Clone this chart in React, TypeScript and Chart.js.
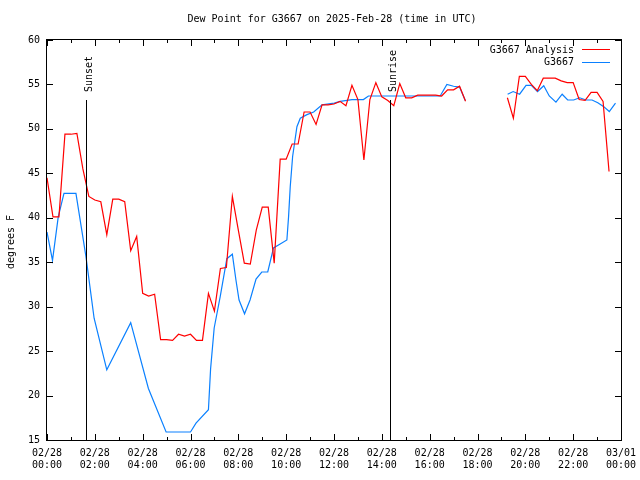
import { useEffect, useRef } from "react";
import { Chart, registerables } from "chart.js";

Chart.register(...registerables);

const FONT_FAMILY = '"DejaVu Sans Mono", monospace';
const TITLE = "Dew Point for G3667 on 2025-Feb-28 (time in UTC)";
const Y_LABEL = "degrees F";

// x-axis ticks (hours since 02/28 00:00 UTC)
const X_TICK_HOURS = [0, 2, 4, 6, 8, 10, 12, 14, 16, 18, 20, 22, 24];
const X_TICK_DATES = ["02/28", "02/28", "02/28", "02/28", "02/28", "02/28", "02/28", "02/28", "02/28", "02/28", "02/28", "02/28", "03/01"];
const X_TICK_TIMES = ["00:00", "02:00", "04:00", "06:00", "08:00", "10:00", "12:00", "14:00", "16:00", "18:00", "20:00", "22:00", "00:00"];
const Y_MIN = 15;
const Y_MAX = 60;
const Y_STEP = 5;

// Sun events (hours UTC)
const SUNSET_HOUR = 1.64;
const SUNRISE_HOUR = 14.36;

// G3667 Analysis: every 15 minutes starting 00:00
const ANALYSIS_STEP_HOURS = 0.25;
const analysisValues: (number | null)[] = [
  44.5, 40.1, 40.1, 49.4, 49.4, 49.5, 45.5, 42.4, 42.0, 41.8,
  38.1, 42.1, 42.1, 41.8, 36.3, 37.9, 31.5, 31.2, 31.4, 26.3,
  26.3, 26.2, 26.9, 26.7, 26.9, 26.2, 26.2, 31.5, 29.5, 34.3,
  34.4, 42.4, 38.6, 34.9, 34.8, 38.6, 41.2, 41.2, 34.9, 46.6,
  46.6, 48.3, 48.3, 51.9, 51.9, 50.5, 52.7, 52.7, 52.8, 53.1,
  52.6, 54.9, 53.3, 46.5, 53.3, 55.2, 53.6, 53.2, 52.6, 55.1,
  53.5, 53.5, 53.8, 53.8, 53.8, 53.8, 53.7, 54.4, 54.4, 54.8,
  53.1, null, null, null, null, null, null, 53.5, 51.2, 55.9,
  55.9, 55.0, 54.3, 55.7, 55.7, 55.7, 55.4, 55.2, 55.2, 53.3,
  53.2, 54.1, 54.1, 53.1, 45.2,
];

// G3667 station observations
const stationHours = [
  0.0, 0.23, 0.47, 0.71, 1.21, 1.63, 1.97, 2.5, 3.5, 4.24,
  4.98, 6.0, 6.23, 6.75, 6.84, 6.99, 7.24, 7.52, 7.75, 7.9,
  8.03, 8.26, 8.49, 8.74, 8.98, 9.23, 9.47, 9.75, 10.03, 10.1,
  10.17, 10.27, 10.45, 10.59, 10.87, 11.15, 11.5, 12.01, 12.26, 12.75,
  13.23, 13.44, 16.44, 16.72, 17.0, 17.25, 17.49, 18.4, 19.26, 19.49,
  19.76, 20.03, 20.25, 20.51, 20.77, 21.0, 21.28, 21.54, 21.77, 22.02,
  22.27, 22.54, 22.79, 23.03, 23.28, 23.51, 23.77,
];
const stationValues: (number | null)[] = [
  38.4, 35.2, 40.1, 42.75, 42.75, 35.6, 28.7, 22.9, 28.2, 20.8,
  15.9, 15.9, 16.9, 18.4, 23.0, 27.6, 31.1, 35.4, 35.9, 33.0,
  30.75, 29.2, 30.75, 33.1, 33.9, 33.9, 36.6, 37.05, 37.5, 40.1,
  43.5, 46.9, 50.25, 51.2, 51.6, 51.9, 52.7, 52.9, 53.1, 53.3,
  53.3, 53.7, 53.7, 55.0, 54.8, 54.7, 53.2, null, 53.9, 54.2,
  53.9, 54.9, 54.9, 54.2, 54.85, 53.7, 53.0, 53.9, 53.25, 53.25,
  53.5, 53.25, 53.25, 52.95, 52.5, 51.95, 52.9,
];

const ANALYSIS_COLOR = "#ff0000";
const STATION_COLOR = "#0a80ff";

const decorPlugin = {
  id: "decor",
  afterDatasetsDraw(chart: any) {
    const { ctx, chartArea: a, scales } = chart;
    const x = scales.x;
    const y = scales.y;
    ctx.save();
    ctx.strokeStyle = "#000";
    ctx.fillStyle = "#000";
    ctx.lineWidth = 1;

    // border
    ctx.strokeRect(a.left - 0.5, a.top - 0.5, a.right - a.left + 1, a.bottom - a.top + 1);

    // x ticks (every hour, major every 2 h), inward, top & bottom
    ctx.beginPath();
    for (let h = 0; h <= 24; h++) {
      const px = Math.round(x.getPixelForValue(h)) + 0.5;
      const len = h % 2 === 0 ? 6 : 3;
      ctx.moveTo(px, a.bottom);
      ctx.lineTo(px, a.bottom - len);
      ctx.moveTo(px, a.top);
      ctx.lineTo(px, a.top + len);
    }
    for (let v = Y_MIN; v <= Y_MAX; v += Y_STEP) {
      const py = Math.round(y.getPixelForValue(v)) + 0.5;
      ctx.moveTo(a.left, py);
      ctx.lineTo(a.left + 6, py);
      ctx.moveTo(a.right, py);
      ctx.lineTo(a.right - 6, py);
    }
    ctx.stroke();

    // sunset / sunrise markers
    ctx.font = "10px " + FONT_FAMILY;
    const lineTop = a.top + 0.15 * (a.bottom - a.top);
    const marks: [number, string][] = [
      [SUNSET_HOUR, "Sunset"],
      [SUNRISE_HOUR, "Sunrise"],
    ];
    for (const [h, label] of marks) {
      const px = Math.round(x.getPixelForValue(h)) + 0.5;
      ctx.beginPath();
      ctx.moveTo(px, lineTop);
      ctx.lineTo(px, a.bottom);
      ctx.stroke();
      ctx.save();
      ctx.translate(px + 5.5, a.top + 52);
      ctx.rotate(-Math.PI / 2);
      ctx.textAlign = "left";
      ctx.textBaseline = "alphabetic";
      ctx.fillText(label, 0, 0);
      ctx.restore();
    }

    // legend
    const ds = chart.data.datasets;
    ctx.textAlign = "right";
    ctx.textBaseline = "middle";
    for (let i = 0; i < ds.length; i++) {
      const ly = a.top + 10 + i * 12.5;
      ctx.fillStyle = "#000";
      ctx.fillText(ds[i].label, a.right - 47, ly);
      ctx.strokeStyle = ds[i].borderColor;
      ctx.beginPath();
      ctx.moveTo(a.right - 39, Math.round(ly) - 0.5);
      ctx.lineTo(a.right - 11, Math.round(ly) - 0.5);
      ctx.stroke();
    }

    // title
    ctx.fillStyle = "#000";
    ctx.textAlign = "center";
    ctx.textBaseline = "middle";
    ctx.fillText(TITLE, 332, 19.5);

    // y label
    ctx.save();
    ctx.translate(11, 242);
    ctx.rotate(-Math.PI / 2);
    ctx.textAlign = "center";
    ctx.textBaseline = "middle";
    ctx.fillText(Y_LABEL, 0, 0);
    ctx.restore();

    ctx.restore();
  },
};

export default function App() {
  const canvasRef = useRef<HTMLCanvasElement | null>(null);

  useEffect(() => {
    const canvas = canvasRef.current;
    if (!canvas) return;

    const analysisData = analysisValues.map((v, i) => ({ x: i * ANALYSIS_STEP_HOURS, y: v }));
    const stationData = stationHours.map((h, i) => ({ x: h, y: stationValues[i] }));

    const chart = new Chart(canvas, {
      type: "line",
      data: {
        datasets: [
          {
            label: "G3667 Analysis",
            data: analysisData as any,
            borderColor: ANALYSIS_COLOR,
            backgroundColor: ANALYSIS_COLOR,
            borderWidth: 1.2,
            pointRadius: 0,
            tension: 0,
            spanGaps: false,
          },
          {
            label: "G3667",
            data: stationData as any,
            borderColor: STATION_COLOR,
            backgroundColor: STATION_COLOR,
            borderWidth: 1.2,
            pointRadius: 0,
            tension: 0,
            spanGaps: false,
          },
        ],
      },
      options: {
        animation: false,
        responsive: false,
        devicePixelRatio: 1,
        layout: { padding: { top: 40, right: 19, left: 0, bottom: 0 } },
        plugins: {
          legend: { display: false },
          tooltip: { enabled: false },
          title: { display: false },
        },
        scales: {
          x: {
            type: "linear",
            min: 0,
            max: 24,
            grid: { display: false, drawTicks: false },
            border: { display: false },
            afterBuildTicks: (scale: any) => {
              scale.ticks = X_TICK_HOURS.map((v) => ({ value: v }));
            },
            afterFit: (scale: any) => {
              scale.height = 40;
              scale.paddingLeft = 0;
              scale.paddingRight = 0;
            },
            ticks: {
              autoSkip: false,
              maxRotation: 0,
              minRotation: 0,
              padding: 7,
              color: "#000",
              font: { family: FONT_FAMILY, size: 10 },
              callback: (value: any) => {
                const idx = X_TICK_HOURS.indexOf(Number(value));
                if (idx < 0) return "";
                return [X_TICK_DATES[idx], X_TICK_TIMES[idx]];
              },
            },
          },
          y: {
            type: "linear",
            min: Y_MIN,
            max: Y_MAX,
            grid: { display: false, drawTicks: false },
            border: { display: false },
            afterFit: (scale: any) => {
              scale.width = 47;
              scale.paddingTop = 0;
              scale.paddingBottom = 0;
            },
            ticks: {
              stepSize: Y_STEP,
              padding: 7,
              color: "#000",
              font: { family: FONT_FAMILY, size: 10 },
            },
          },
        },
      },
      plugins: [decorPlugin],
    });

    return () => {
      chart.destroy();
    };
  }, []);

  return (
    <div style={{ position: "absolute", left: 0, top: 0, width: 640, height: 480, background: "#fff" }}>
      <canvas ref={canvasRef} width={640} height={480} style={{ width: 640, height: 480, display: "block" }} />
    </div>
  );
}
